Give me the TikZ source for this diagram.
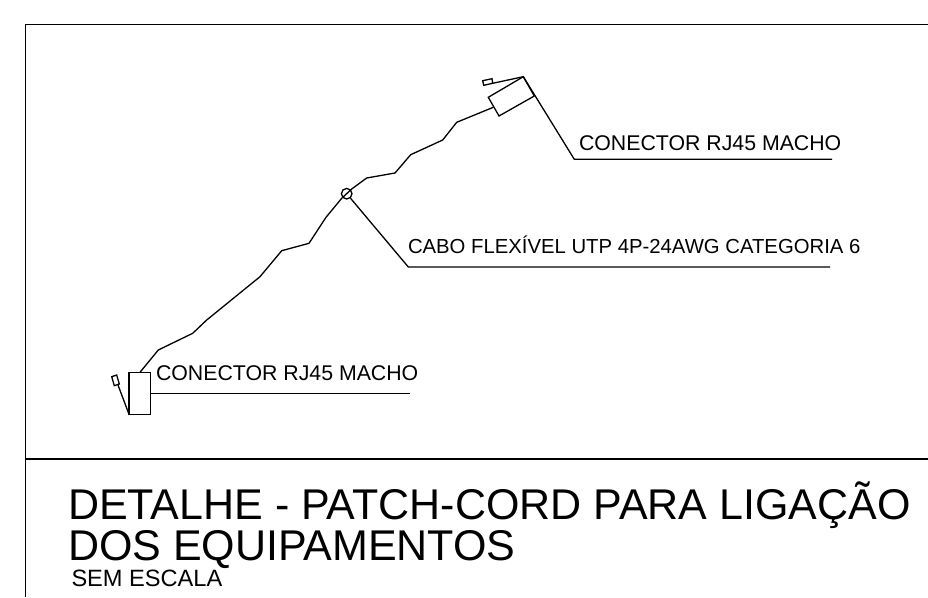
\documentclass[tikz,border=0pt]{standalone}
\usepackage{fontspec}
\setmainfont{Liberation Sans}
\tikzset{
  ln/.style={draw=black,line width=1.3pt,line join=miter},
  lbl/.style={anchor=base west,inner sep=0pt,outer sep=0pt,text=black},
  small/.style={lbl,font=\fontsize{21.3}{24}\selectfont},
  mid/.style={lbl,font=\fontsize{20.3}{24}\selectfont},
  big/.style={lbl,font=\fontsize{43}{48}\selectfont},
  scalelbl/.style={lbl,font=\fontsize{23.6}{26}\selectfont}
}
\begin{document}
\begin{tikzpicture}[x=1pt,y=-1pt]
\useasboundingbox (0,0) rectangle (928,597);
% frame
\draw[ln] (25.5,597) -- (25.5,24.5) -- (928,24.5);
\draw[ln] (25.5,459) -- (928,459);
% cable
\draw[ln] (493.3,107.3) -- (456.7,122.3) -- (442.7,140) -- (410.7,154.7) -- (395,173) -- (366.7,178) -- (351.7,189) -- (341.7,198.3) -- (326,217.3) -- (309,243.3) -- (281.7,250.7) -- (260,276.7) -- (206.7,320) -- (192.7,333.3) -- (158.3,350) -- (140,372.3);
\node[draw=black,line width=1.3pt,circle,minimum size=10.6pt,inner sep=0pt] (ring) at (346.7,193.7) {};
% upper connector
\draw[ln] (488.3,97.3) -- (523.3,76.7) -- (534.3,96) -- (499,116) -- cycle;
\draw[ln] (482.7,80.7) -- (492,78.7) -- (492.7,83.3) -- (483.7,85.3) -- cycle;
\draw[ln] (492.7,83.3) -- (523.3,76.7);
\draw[ln] (523.3,76.7) -- (574.3,159.3) -- (832,159.3);
% lower connector
\draw[ln] (129,372.3) rectangle (150.7,414.3);
\draw[ln] (111.7,376.7) -- (116.7,375) -- (119.3,384) -- (114.3,385.7) -- cycle;
\draw[ln] (118,385) -- (129,414.3);
\draw[ln] (150.7,393.5) -- (410,393.5);
% middle leader
\draw[ln] (ring) -- (408.3,267) -- (830,267);
% labels
\node[small] (t1) at (579,150) {CONECTOR RJ45 MACHO};
\node[small] (t2) at (156,380.5) {CONECTOR RJ45 MACHO};
\node[mid] (t3) at (408,253.5) {CABO FLEXÍVEL UTP 4P-24AWG CATEGORIA 6};
\node[big] (t4) at (68,519.5) {DETALHE - PATCH-CORD PARA LIGAÇÃO};
\node[big] (t5) at (68,560) {DOS EQUIPAMENTOS};
\node[scalelbl] (t6) at (71.5,586) {SEM ESCALA};
\end{tikzpicture}
\end{document}
